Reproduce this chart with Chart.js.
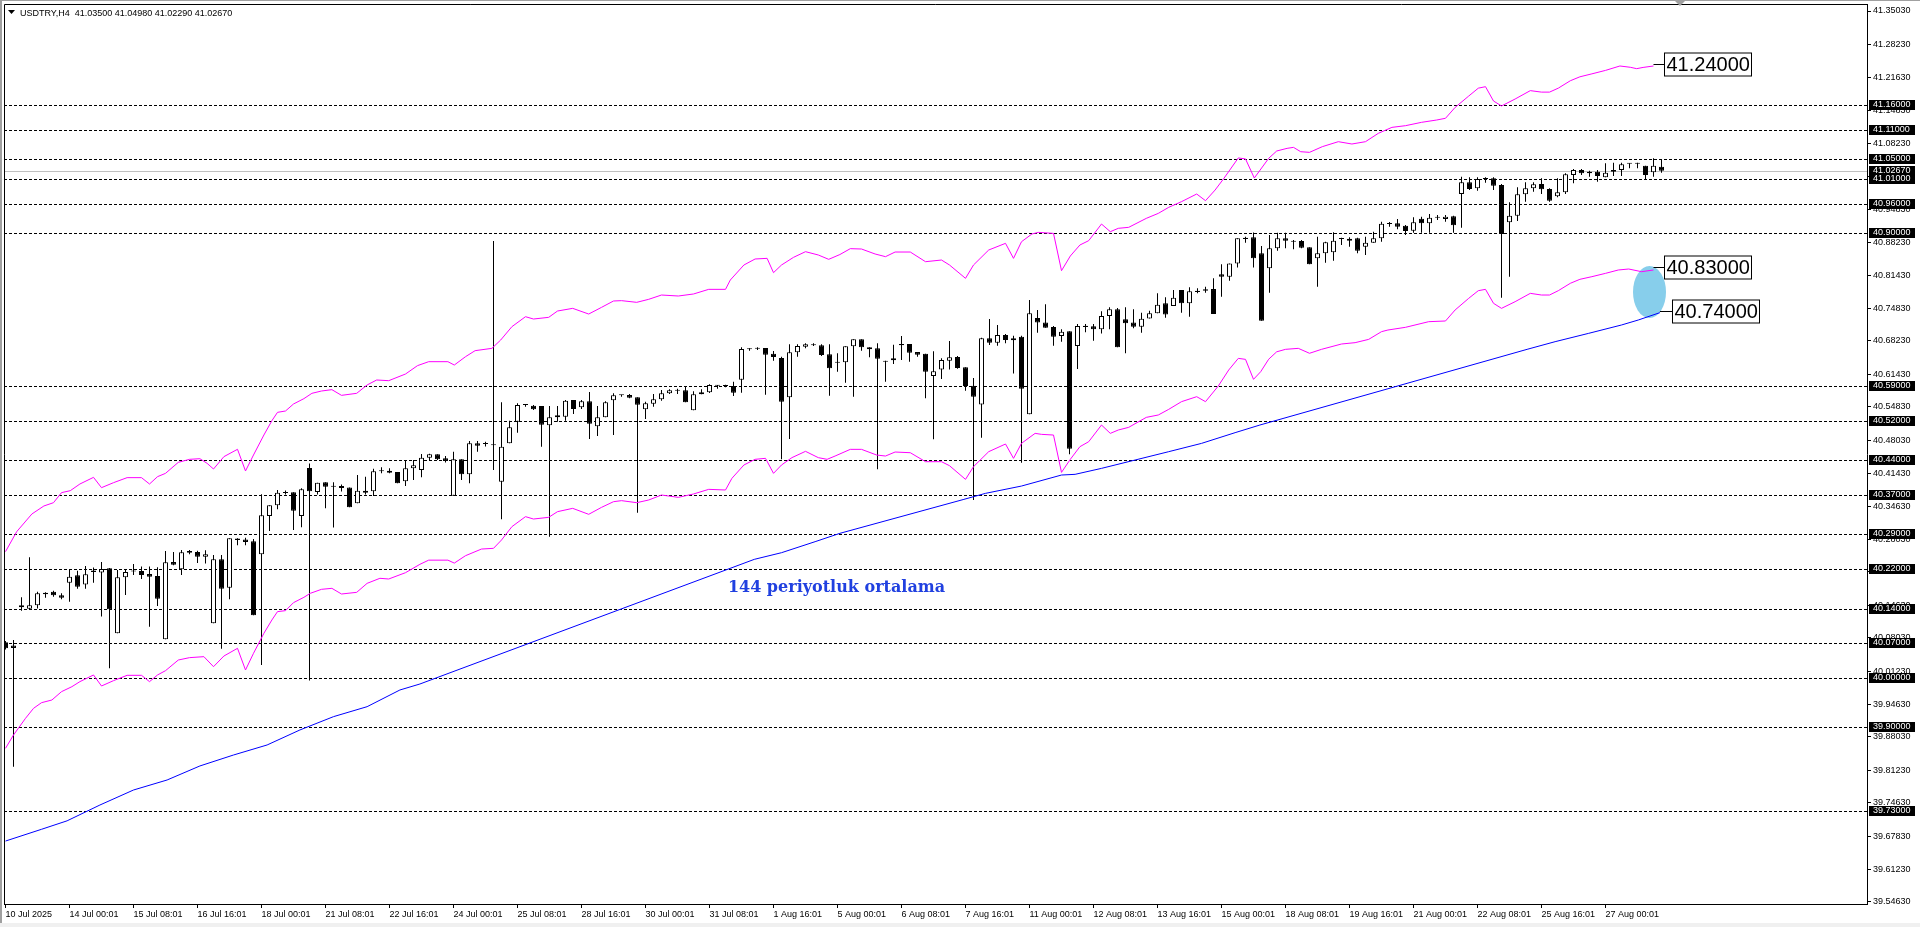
<!DOCTYPE html>
<html>
<head>
<meta charset="utf-8">
<title>USDTRY,H4</title>
<script src="https://cdn.jsdelivr.net/npm/chart.js@4.4.1/dist/chart.umd.min.js"></script>
<style>
  html, body { margin: 0; padding: 0; background: #ffffff; overflow: hidden; }
  #wrap { width: 1920px; height: 927px; }
</style>
</head>
<body>
<div id="wrap"><canvas id="chart" width="1920" height="927"></canvas></div>
<script>
const symbol = 'USDTRY';
const timeframe = 'H4';

// H4 bars, 10 Jul 2025 -> 28 Aug 2025
const opens = [
  40.0716,40.0650,40.1465,40.1397,40.1465,40.1720,40.1740,40.1670,40.1923,40.2073,
  40.1889,40.2170,40.2130,40.2215,40.0898,40.2032,40.2150,40.2160,40.2099,40.2058,
  40.0777,40.2342,40.2194,40.2565,40.2545,40.2450,40.1101,40.2397,40.1822,40.2820,
  40.2800,40.2763,40.2498,40.3274,40.3491,40.3740,40.3754,40.3274,40.4246,40.3760,
  40.3957,40.3868,40.3880,40.3850,40.3531,40.3787,40.3774,40.4180,40.4190,40.4165,
  40.3977,40.4240,40.4206,40.4456,40.4523,40.4442,40.3686,40.4422,40.4118,40.4746,
  40.4732,40.4726,40.3970,40.4746,40.5185,40.5520,40.5509,40.5502,40.5111,40.5273,
  40.5286,40.5624,40.5475,40.5597,40.5090,40.5273,40.5617,40.5718,40.5725,40.5678,
  40.5435,40.5549,40.5637,40.5759,40.5813,40.5820,40.5414,40.5738,40.5779,40.5914,
  40.5908,40.5907,40.6036,40.6650,40.6663,40.6677,40.6562,40.6474,40.5678,40.6589,
  40.6704,40.6751,40.6731,40.6549,40.6380,40.6386,40.6710,40.6852,40.6690,40.6670,
  40.6420,40.6427,40.6758,40.6758,40.6596,40.6562,40.6109,40.6244,40.6420,40.6494,
  40.6285,40.5914,40.5535,40.6872,40.6785,40.6940,40.6832,40.6906,40.5333,40.7284,
  40.7196,40.7102,40.6919,40.7014,40.6717,40.7129,40.7116,40.7055,40.7325,40.7460,
  40.7257,40.7196,40.7109,40.7277,40.7379,40.7581,40.7527,40.7851,40.7581,40.7838,
  40.7865,40.7871,40.8169,40.8121,40.8391,40.8911,40.8918,40.8594,40.8291,40.8696,
  40.8898,40.8851,40.8844,40.8716,40.8493,40.8594,40.8615,40.8885,40.8891,40.8898,
  40.8729,40.8810,40.8898,40.9190,40.9202,40.9155,40.9054,40.9297,40.9202,40.9317,
  40.9290,40.9344,40.9796,41.0032,40.9911,41.0100,41.0113,40.9978,40.9222,40.9357,
  40.9789,40.9911,40.9999,40.9897,40.9749,40.9830,41.0181,41.0282,41.0215,41.0248,
  41.0134,41.0248,41.0282,41.0410,41.0410,41.0370,41.0235,41.0350
];
const highs = [
  40.0740,40.0762,40.1627,40.2437,40.1740,40.1730,40.1760,40.1710,40.2194,40.2166,
  40.2262,40.2230,40.2340,40.2220,40.2180,40.2180,40.2300,40.2250,40.2250,40.2235,
  40.2565,40.2544,40.2585,40.2585,40.2572,40.2580,40.2484,40.2484,40.2822,40.2825,
  40.2835,40.2808,40.3713,40.3491,40.3800,40.3790,40.3754,40.3835,40.4340,40.3949,
  40.3960,40.3960,40.3910,40.3850,40.4105,40.4070,40.4233,40.4260,40.4240,40.4165,
  40.4408,40.4408,40.4530,40.4537,40.4523,40.4490,40.4577,40.4422,40.4793,40.4793,
  40.4780,40.8844,40.5576,40.5205,40.5556,40.5543,40.5522,40.5502,40.5502,40.5502,
  40.5624,40.5624,40.5624,40.5786,40.5502,40.5597,40.5759,40.5732,40.5745,40.5678,
  40.5590,40.5745,40.5826,40.5840,40.5853,40.5894,40.5799,40.5840,40.5941,40.5927,
  40.5934,40.5995,40.6690,40.6670,40.6690,40.6677,40.6616,40.6501,40.6751,40.6751,
  40.6771,40.6771,40.6751,40.6751,40.6569,40.6710,40.6852,40.6852,40.6690,40.6771,
  40.6420,40.6744,40.6920,40.6758,40.6596,40.6562,40.6609,40.6467,40.6818,40.6515,
  40.6285,40.6069,40.6886,40.7264,40.7143,40.6960,40.6926,40.6926,40.7649,40.7446,
  40.7561,40.7122,40.7055,40.7014,40.7163,40.7163,40.7163,40.7419,40.7500,40.7487,
  40.7500,40.7460,40.7392,40.7433,40.7784,40.7703,40.7851,40.7851,40.7905,40.7885,
  40.7919,40.8088,40.8371,40.8391,40.8898,40.8932,40.9019,40.8743,40.8966,40.9013,
  40.9013,40.8864,40.8864,40.8716,40.8932,40.8831,40.9020,40.8912,40.8918,40.8912,
  40.8932,40.9033,40.9236,40.9229,40.9290,40.9168,40.9324,40.9337,40.9391,40.9371,
  40.9371,40.9358,41.0147,41.0134,41.0134,41.0134,41.0134,40.9999,40.9627,40.9931,
  41.0032,41.0032,41.0113,40.9911,41.0113,41.0215,41.0302,41.0302,41.0269,41.0282,
  41.0417,41.0431,41.0431,41.0417,41.0431,41.0370,41.0519,41.0498
];
const lows = [
  40.0570,39.8196,40.1356,40.1370,40.1400,40.1620,40.1640,40.1590,40.1538,40.1803,
  40.1803,40.1920,40.1240,40.0190,40.0898,40.1674,40.2080,40.2000,40.1032,40.1452,
  40.0777,40.2275,40.2079,40.2500,40.2320,40.2310,40.1101,40.0586,40.1587,40.2680,
  40.2680,40.1263,40.0256,40.2970,40.3410,40.3710,40.2990,40.3045,39.9940,40.3710,
  40.3433,40.3040,40.3770,40.3450,40.3531,40.3710,40.3680,40.4140,40.4140,40.3936,
  40.3882,40.4003,40.4057,40.4410,40.4410,40.4360,40.3686,40.4003,40.3936,40.4577,
  40.4680,40.4206,40.3207,40.4746,40.4962,40.5489,40.5421,40.4678,40.2855,40.5185,
  40.5205,40.5340,40.5441,40.4834,40.4895,40.5273,40.4915,40.5691,40.5657,40.3342,
  40.5239,40.5489,40.5610,40.5745,40.5745,40.5576,40.5414,40.5738,40.5766,40.5853,
  40.5880,40.5705,40.5772,40.6623,40.6636,40.5732,40.6420,40.4422,40.4834,40.6501,
  40.6670,40.6717,40.6515,40.5711,40.6198,40.5974,40.5691,40.6623,40.6488,40.4219,
  40.5995,40.6353,40.6433,40.6400,40.6501,40.5657,40.4827,40.6049,40.6244,40.6258,
  40.5812,40.3598,40.4860,40.6737,40.6724,40.6771,40.6163,40.4354,40.5333,40.6987,
  40.7088,40.6724,40.6805,40.4523,40.6251,40.6994,40.6825,40.6973,40.7055,40.6690,
  40.6569,40.7075,40.6987,40.7277,40.7379,40.7291,40.7527,40.7392,40.7311,40.7784,
  40.7797,40.7365,40.7716,40.8040,40.8310,40.8810,40.8310,40.7231,40.7798,40.8648,
  40.8696,40.8675,40.8696,40.8372,40.7919,40.8405,40.8446,40.8763,40.8729,40.8594,
  40.8561,40.8810,40.8831,40.9135,40.9081,40.8966,40.9013,40.9013,40.9013,40.9270,
  40.9236,40.9013,40.9114,40.9877,40.9864,41.0026,40.9877,40.7696,40.8122,40.9249,
  40.9641,40.9843,40.9796,40.9641,40.9729,40.9796,41.0012,41.0181,41.0147,41.0046,
  41.0134,41.0161,41.0161,41.0316,41.0316,41.0093,41.0147,41.0229
];
const closes = [
  40.0595,40.0600,40.1425,40.1465,40.1708,40.1690,40.1670,40.1620,40.2044,40.1842,
  40.2092,40.2140,40.2200,40.1384,40.2032,40.2139,40.2152,40.2079,40.2045,40.1598,
  40.2336,40.2288,40.2539,40.2531,40.2450,40.2497,40.2397,40.1803,40.2822,40.2790,
  40.2748,40.1263,40.3288,40.3491,40.3747,40.3760,40.3382,40.3815,40.3775,40.3949,
  40.3868,40.3875,40.3840,40.3450,40.3787,40.3747,40.4179,40.4190,40.4150,40.3936,
  40.4240,40.4301,40.4456,40.4523,40.4422,40.4388,40.4422,40.4118,40.4746,40.4699,
  40.4730,40.4705,40.4678,40.5070,40.5522,40.5525,40.5435,40.5124,40.5273,40.5313,
  40.5610,40.5441,40.5597,40.5144,40.5273,40.5576,40.5718,40.5720,40.5671,40.5529,
  40.5556,40.5637,40.5759,40.5820,40.5815,40.5576,40.5738,40.5779,40.5927,40.5917,
  40.5905,40.5772,40.6657,40.6652,40.6665,40.6542,40.6495,40.5590,40.6589,40.6717,
  40.6751,40.6731,40.6535,40.6265,40.6382,40.6710,40.6852,40.6690,40.6650,40.6460,
  40.6400,40.6467,40.6731,40.6582,40.6542,40.6197,40.6204,40.6433,40.6488,40.6271,
  40.5907,40.5691,40.6872,40.6785,40.6940,40.6839,40.6872,40.5853,40.7379,40.7196,
  40.7088,40.6906,40.7007,40.4638,40.7122,40.7102,40.7055,40.7325,40.7460,40.6690,
  40.7176,40.7109,40.7271,40.7379,40.7554,40.7358,40.7696,40.7581,40.7824,40.7811,
  40.7838,40.7365,40.8121,40.8391,40.8898,40.8884,40.8493,40.7231,40.8696,40.8898,
  40.8851,40.8831,40.8709,40.8372,40.8594,40.8817,40.8851,40.8884,40.8851,40.8648,
  40.8810,40.8898,40.9195,40.9188,40.9135,40.9047,40.9222,40.9202,40.9317,40.9318,
  40.9337,40.9161,41.0032,40.9897,41.0100,41.0101,40.9965,40.8986,40.9357,40.9789,
  40.9911,40.9992,40.9891,40.9661,40.9830,41.0194,41.0282,41.0215,41.0248,41.0161,
  41.0228,41.0282,41.0397,41.0411,41.0410,41.0181,41.0370,41.0267
];

// envelope lines (bar index / price)
const upperX = [0,1.4,3.3,4.8,6,7,8.1,9.3,11,12,13.5,15.2,17,18,19,20,21.6,23,24.3,25.2,
  26,27.3,29,30,31,32.3,33.3,34,35,36,37.3,38.3,39.5,40.8,42,43.9,45.2,46.4,47.9,50,
  51.5,52.9,55.3,56.1,57.5,58.7,60.8,61.9,63.3,65,66,67.9,69,70.9,72.9,74.5,76,77,78.9,80.4,
  82,84.1,86,87.9,90,90.6,92.3,93.7,95.2,96,97,98.5,100,101.6,102.9,104.3,105.6,107,108.7,110,
  111.2,113.1,115,117,118,120,121,122.9,125,126,127,128.3,129.1,131,132,133.1,134.3,135.4,137,138.1,
  139.1,140.4,142.6,144.1,145.4,147,148.9,150,151.2,152.3,154.1,155,156.1,157.9,158.9,160.2,161,161.9,163,164.6,
  166.6,168.3,170,171.6,173.3,175,177,178.9,180,181.2,182.9,184.1,185,186,187,188.7,190.6,192,193,194.1,
  195.6,196.8,198.3,200,201.8,203.1,203.9,204.7,206];
const upperY = [40.2552,40.2957,40.3315,40.3477,40.3544,40.3747,40.3787,40.3922,40.4057,40.3848,
  40.3949,40.4051,40.4051,40.3922,40.4071,40.4138,40.4361,40.4422,40.4435,40.4341,
  40.4226,40.4476,40.4625,40.4186,40.4510,40.4915,40.5205,40.5374,40.5401,40.5543,
  40.5651,40.5759,40.5806,40.5833,40.5718,40.5759,40.5928,40.6029,40.6015,40.6150,
  40.6320,40.6400,40.6400,40.6332,40.6501,40.6623,40.6670,40.6839,40.7109,40.7311,
  40.7264,40.7298,40.7426,40.7480,40.7365,40.7500,40.7629,40.7636,40.7602,40.7663,
  40.7750,40.7730,40.7771,40.7865,40.7865,40.8054,40.8358,40.8480,40.8493,40.8203,
  40.8358,40.8513,40.8628,40.8561,40.8473,40.8570,40.8689,40.8682,40.8581,40.8527,
  40.8621,40.8621,40.8425,40.8459,40.8358,40.8088,40.8358,40.8662,40.8797,40.8493,
  40.8830,40.8986,40.9019,40.8999,40.8243,40.8540,40.8763,40.8851,40.9188,40.9033,
  40.9101,40.9121,40.9303,40.9404,40.9526,40.9641,40.9796,40.9661,40.9877,41.0113,
  41.0527,41.0507,41.0120,41.0519,41.0667,41.0721,41.0741,41.0653,41.0640,41.0755,
  41.0856,41.0809,41.0856,41.1025,41.1146,41.1180,41.1248,41.1295,41.1330,41.1550,
  41.1780,41.1940,41.1970,41.1680,41.1580,41.1720,41.1890,41.1860,41.1860,41.1940,
  41.2090,41.2170,41.2230,41.2300,41.2389,41.2363,41.2335,41.2360,41.2389];

const lowerX = [0,1,2.5,3.5,4.5,5.8,7,8.3,9.3,11,12,13.5,15.2,17,18,19,20,21.6,23,24.8,
  26,27.3,29,30,31,32.3,33.3,34,35,36,37.3,38.1,39.5,40.8,42,43.9,45.2,46.8,47.9,50,
  51.8,52.9,55.3,56.1,57.5,59.5,61,62,63.3,65,66,67.9,69,70.9,72.9,74.5,76,77,78.9,80.4,
  82,84.1,86,87.9,90,90.8,92.3,93.7,95,96,97,98.3,100,101.6,102.7,103.7,105.6,107,108.9,110,
  111.2,113.1,115,117,118,120,121,122.9,125,126,127,128.7,129.5,131,132,133.1,134.3,135.4,137,138.1,
  139.1,140.4,142.6,144.1,145.4,147,148.9,150,151.6,152.9,154.1,155,156,156.9,157.9,158.9,160,161.6,163,164.5,
  167,168.7,170.4,172,172.8,175,177.9,180,181.2,182.9,184.1,185,186,187,188.7,190.6,192,193,194.1,195.6,
  196.8,198.3,200,201.6,202.9,204.5,206];
const lowerY = [39.8568,39.8838,39.9176,39.9378,39.9493,39.9547,39.9716,39.9817,39.9919,40.0054,
  39.9831,39.9939,40.0047,40.0047,39.9919,40.0054,40.0141,40.0357,40.0405,40.0425,
  40.0222,40.0438,40.0594,40.0155,40.0493,40.0898,40.1168,40.1337,40.1357,40.1519,
  40.1627,40.1708,40.1789,40.1809,40.1694,40.1728,40.1910,40.2012,40.1998,40.2126,
  40.2295,40.2380,40.2380,40.2320,40.2470,40.2605,40.2619,40.2788,40.3058,40.3261,
  40.3213,40.3247,40.3362,40.3429,40.3308,40.3449,40.3564,40.3585,40.3544,40.3598,
  40.3699,40.3652,40.3720,40.3814,40.3801,40.4037,40.4307,40.4422,40.4442,40.4138,
  40.4307,40.4456,40.4584,40.4456,40.4422,40.4489,40.4624,40.4624,40.4509,40.4489,
  40.4570,40.4556,40.4374,40.4374,40.4293,40.4016,40.4273,40.4577,40.4732,40.4442,
  40.4746,40.4948,40.4928,40.4914,40.4158,40.4422,40.4678,40.4779,40.5117,40.4948,
  40.5016,40.5070,40.5272,40.5320,40.5434,40.5590,40.5691,40.5590,40.5907,40.6231,
  40.6467,40.6447,40.6042,40.6197,40.6450,40.6600,40.6650,40.6670,40.6570,40.6650,
  40.6758,40.6785,40.6852,40.7008,40.7041,40.7096,40.7210,40.7224,40.7447,40.7683,
  40.7838,40.7865,40.7582,40.7480,40.7615,40.7784,40.7750,40.7750,40.7838,40.7987,
  40.8068,40.8122,40.8189,40.8257,40.8277,40.8223,40.8257];

// 144 period moving average
const maX = [0,4.5,7.7,11.8,16,20.2,24.3,28.5,32.7,36.8,41,45.2,49.3,51.8,93.6,97,101.2,104.3,
  119.8,122.5,127,132,133.7,137,141.2,145.4,149.5,153.7,156.8,190.2,193.7,197.9,202,204.1,206.8];
const maY = [39.6690,39.6928,39.7100,39.7420,39.7724,39.7927,39.8211,39.8433,39.8636,39.8940,
  39.9210,39.9412,39.9750,39.9871,40.2396,40.2531,40.2754,40.2923,40.3611,40.3733,40.3881,
  40.4104,40.4118,40.4239,40.4408,40.4577,40.4745,40.4962,40.5117,40.6650,40.6805,40.6974,
  40.7143,40.7244,40.7393];

const xTickLabels = ['10 Jul 2025','14 Jul 00:01','15 Jul 08:01','16 Jul 16:01','18 Jul 00:01',
  '21 Jul 08:01','22 Jul 16:01','24 Jul 00:01','25 Jul 08:01','28 Jul 16:01','30 Jul 00:01',
  '31 Jul 08:01','1 Aug 16:01','5 Aug 00:01','6 Aug 08:01','7 Aug 16:01','11 Aug 00:01',
  '12 Aug 08:01','13 Aug 16:01','15 Aug 00:01','18 Aug 08:01','19 Aug 16:01','21 Aug 00:01',
  '22 Aug 08:01','25 Aug 16:01','27 Aug 00:01'];
const xTickStep = 8;

const yTickValues = [41.3503,41.2823,41.2163,41.1483,41.0823,41.0143,40.9483,40.8823,40.8143,
  40.7483,40.6823,40.6143,40.5483,40.4803,40.4143,40.3463,40.2803,40.2143,40.1463,40.0803,
  40.0123,39.9463,39.8803,39.8123,39.7463,39.6783,39.6123,39.5463];

const levelPrices = [41.16,41.11,41.05,41.01,40.96,40.90,40.59,40.52,40.44,40.37,
  40.29,40.22,40.14,40.07,40.00,39.90,39.73];
const calloutPrices = [41.24, 40.83, 40.74];
const maText = '144 periyotluk ortalama';

const last = closes.length - 1;
const axisFont = { family: "'Liberation Sans', Arial, sans-serif", size: 9 };

function pts(xs, ys) {
  return xs.map((x, i) => ({ x: x, y: ys[i] }));
}

const overlay = {
  id: 'mt4Overlay',
  beforeDraw(chart) {
    const { ctx, width, height } = chart;
    ctx.save();
    ctx.fillStyle = '#ffffff';
    ctx.fillRect(0, 0, width, height);
    ctx.fillStyle = '#a0a0a0';
    ctx.fillRect(0, 0, 2, height);
    ctx.fillRect(0, 0, width, 1);
    ctx.fillStyle = '#f0f0f0';
    ctx.fillRect(0, height - 4, width, 4);
    ctx.restore();
  },
  beforeDatasetsDraw(chart) {
    const { ctx, chartArea: a, scales } = chart;
    const x = scales.x, y = scales.y;
    ctx.save();
    ctx.beginPath();
    ctx.rect(a.left, a.top, a.right - a.left, a.bottom - a.top);
    ctx.clip();
    ctx.lineWidth = 1;

    // bid line
    let py = Math.round(y.getPixelForValue(closes[last])) + 0.5;
    ctx.strokeStyle = '#c0c0c0';
    ctx.beginPath();
    ctx.moveTo(a.left, py);
    ctx.lineTo(a.right, py);
    ctx.stroke();

    // horizontal levels
    ctx.strokeStyle = '#000000';
    ctx.setLineDash([3, 2]);
    levelPrices.forEach(p => {
      const ly = Math.round(y.getPixelForValue(p)) + 0.5;
      ctx.beginPath();
      ctx.moveTo(a.left, ly);
      ctx.lineTo(a.right, ly);
      ctx.stroke();
    });
    ctx.setLineDash([]);

    // highlight ellipse
    ctx.fillStyle = '#87ceeb';
    ctx.beginPath();
    ctx.ellipse(x.getPixelForValue(205.5), y.getPixelForValue(40.781), 16.5, 26, 0, 0, Math.PI * 2);
    ctx.fill();
    ctx.restore();
  },
  afterDraw(chart) {
    const { ctx, chartArea: a, scales } = chart;
    const x = scales.x, y = scales.y;
    ctx.save();

    // frame
    ctx.strokeStyle = '#000000';
    ctx.lineWidth = 1;
    ctx.beginPath();
    ctx.moveTo(a.left + 0.5, a.bottom);
    ctx.lineTo(a.left + 0.5, a.top + 0.5);
    ctx.lineTo(a.right, a.top + 0.5);
    ctx.stroke();

    // header
    ctx.fillStyle = '#000000';
    ctx.beginPath();
    ctx.moveTo(8, 10);
    ctx.lineTo(15, 10);
    ctx.lineTo(11.5, 14);
    ctx.closePath();
    ctx.fill();
    ctx.font = "9px 'Liberation Sans', Arial, sans-serif";
    ctx.textBaseline = 'alphabetic';
    ctx.textAlign = 'left';
    const head = symbol + ',' + timeframe + '  ' +
      [opens[last], highs[last], lows[last], closes[last]].map(v => v.toFixed(5)).join(' ');
    ctx.fillText(head, 20, 16);

    // MA caption
    ctx.fillStyle = '#2040e0';
    ctx.font = "bold 16px 'DejaVu Serif', serif";
    ctx.textBaseline = 'middle';
    ctx.fillText(maText, x.getPixelForValue(90.3), y.getPixelForValue(40.1816));

    // callouts
    const lastPx = x.getPixelForValue(last);
    const ends = [x.getPixelForValue(upperX[upperX.length - 1]),
                  x.getPixelForValue(lowerX[lowerX.length - 1]),
                  x.getPixelForValue(maX[maX.length - 1])];
    const shifts = [2.5, 2.5, 10.5];
    ctx.font = "20px 'Liberation Sans', Arial, sans-serif";
    calloutPrices.forEach((p, i) => {
      const cy = Math.round(y.getPixelForValue(p)) - 0.5;
      const bx = Math.round(lastPx + shifts[i]) + 0.5;
      const txt = p.toFixed(5);
      const w = Math.ceil(ctx.measureText(txt).width) + 3;
      ctx.strokeStyle = '#000000';
      ctx.beginPath();
      ctx.moveTo(ends[i], cy);
      ctx.lineTo(bx, cy);
      ctx.stroke();
      ctx.fillStyle = '#ffffff';
      ctx.fillRect(bx, cy - 11.5, w, 23);
      ctx.strokeRect(bx, cy - 11.5, w, 23);
      ctx.fillStyle = '#000000';
      ctx.textBaseline = 'middle';
      ctx.fillText(txt, bx + 2, cy + 1);
    });

    // price labels on the axis
    ctx.font = "9px 'Liberation Sans', Arial, sans-serif";
    ctx.textBaseline = 'middle';
    const tag = (p) => {
      const ty = Math.round(y.getPixelForValue(p));
      ctx.fillStyle = '#000000';
      ctx.fillRect(a.right + 2, ty - 5, 46, 10);
      ctx.fillStyle = '#ffffff';
      ctx.fillText(p.toFixed(5), a.right + 6, ty);
    };
    tag(closes[last]);
    levelPrices.forEach(tag);

    // chart shift marker
    ctx.fillStyle = '#a0a0a0';
    ctx.beginPath();
    ctx.moveTo(1675, 1);
    ctx.lineTo(1685, 1);
    ctx.lineTo(1680, 6);
    ctx.closePath();
    ctx.fill();
    ctx.restore();
  }
};

const chart = new Chart(document.getElementById('chart'), {
  type: 'bar',
  data: {
    datasets: [
      {
        type: 'line', label: 'upper', data: pts(upperX, upperY),
        borderColor: '#ff00ff', borderWidth: 1, pointRadius: 0, tension: 0, order: 0
      },
      {
        type: 'line', label: 'lower', data: pts(lowerX, lowerY),
        borderColor: '#ff00ff', borderWidth: 1, pointRadius: 0, tension: 0, order: 0
      },
      {
        type: 'line', label: 'ma144', data: pts(maX, maY),
        borderColor: '#0000ff', borderWidth: 1, pointRadius: 0, tension: 0, order: 0
      },
      {
        label: 'body',
        data: opens.map((o, i) => ({ x: i, y: [o, closes[i]] })),
        backgroundColor: opens.map((o, i) => closes[i] < o ? '#000000' : '#ffffff'),
        borderColor: '#000000', borderWidth: 1, borderSkipped: false,
        barThickness: 5, minBarLength: 1, grouped: false, inflateAmount: 0, order: 1
      },
      {
        label: 'wick',
        data: highs.map((h, i) => ({ x: i, y: [lows[i], h] })),
        backgroundColor: '#000000', borderWidth: 0,
        barThickness: 1, minBarLength: 1, grouped: false, inflateAmount: 0, order: 2
      }
    ]
  },
  options: {
    responsive: false,
    animation: false,
    devicePixelRatio: 1,
    layout: { padding: { left: 4, top: 4, right: 0, bottom: 0 } },
    plugins: { legend: { display: false }, tooltip: { enabled: false } },
    scales: {
      x: {
        type: 'linear', min: -0.1875, max: 232.6875, bounds: 'data', offset: false,
        afterBuildTicks: s => { s.ticks = xTickLabels.map((_, i) => ({ value: i * xTickStep })); },
        afterFit: s => { s.height = 23; s.paddingLeft = 0; s.paddingRight = 0; },
        grid: { drawOnChartArea: false, tickLength: 4, color: '#000000', offset: false },
        border: { color: '#000000' },
        ticks: {
          align: 'start', autoSkip: false, maxRotation: 0, minRotation: 0, padding: 1,
          color: '#000000', font: axisFont,
          callback: (v, i) => xTickLabels[i]
        }
      },
      y: {
        type: 'linear', position: 'right', min: 39.54151, max: 41.36448,
        bounds: 'data', beginAtZero: false,
        afterBuildTicks: s => { s.ticks = yTickValues.map(v => ({ value: v })); },
        afterFit: s => { s.width = 53; s.paddingTop = 0; s.paddingBottom = 0; },
        grid: { drawOnChartArea: false, tickLength: 4, color: '#000000' },
        border: { color: '#000000' },
        ticks: {
          autoSkip: false, padding: 2, color: '#000000', font: axisFont,
          callback: v => Number(v).toFixed(5)
        }
      }
    }
  },
  plugins: [overlay]
});
</script>
</body>
</html>
